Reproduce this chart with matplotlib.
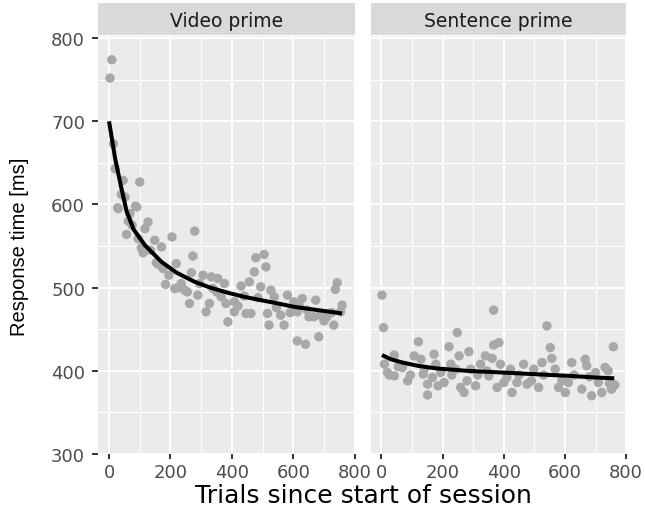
import matplotlib
matplotlib.use("Agg")
import matplotlib.pyplot as plt

# points: (trial, response time in ms)
video_x = [3, 9, 14, 20, 28, 30, 40, 46, 52, 57, 63, 68, 75, 86, 90, 95, 100, 105,
           111, 117, 127, 135, 149, 154, 160, 171, 176, 184, 195, 205, 214, 219, 225,
           235, 246, 255, 262, 268, 273, 279, 289, 295, 306, 316, 327, 333, 338, 350,
           354, 365, 376, 381, 387, 408, 408, 420, 430, 440, 446, 457, 462, 473, 478,
           485, 494, 505, 511, 516, 521, 527, 538, 545, 559, 570, 581, 590, 602, 613,
           613, 620, 629, 640, 645, 651, 667, 673, 683, 689, 700, 710, 725, 732, 737,
           743, 754, 759]
video_y = [752, 774, 673, 643, 596, 595, 612, 629, 609, 564, 580, 589, 575, 598, 597,
           559, 627, 548, 542, 571, 579, 545, 557, 530, 528, 549, 523, 504, 515, 561,
           499, 529, 500, 505, 497, 495, 481, 518, 538, 568, 491, 505, 515, 471, 481,
           513, 499, 495, 511, 489, 505, 481, 459, 483, 471, 478, 502, 490, 469, 507,
           469, 519, 536, 488, 501, 540, 525, 469, 455, 497, 489, 476, 467, 455, 491,
           470, 483, 471, 436, 478, 487, 432, 473, 465, 465, 485, 441, 467, 460, 465,
           470, 455, 498, 506, 471, 479]

sentence_x = [2, 7, 10, 20, 26, 42, 42, 55, 69, 86, 95, 107, 121, 129, 137, 140, 151,
              151, 167, 172, 178, 185, 194, 205, 221, 227, 230, 243, 248, 254, 259,
              270, 280, 286, 292, 308, 315, 324, 340, 345, 351, 362, 367, 367, 378,
              384, 389, 400, 410, 422, 427, 443, 450, 465, 476, 490, 498, 514, 525,
              530, 541, 552, 557, 568, 579, 590, 601, 611, 622, 630, 655, 666, 671,
              680, 687, 700, 709, 720, 731, 741, 745, 752, 758, 763]
sentence_y = [491, 452, 408, 398, 395, 419, 394, 405, 404, 388, 395, 418, 435, 414,
              396, 402, 384, 371, 392, 420, 408, 382, 398, 386, 429, 408, 395, 402,
              446, 418, 380, 374, 388, 423, 402, 382, 395, 408, 418, 400, 394, 415,
              473, 431, 380, 434, 408, 386, 392, 402, 374, 386, 395, 408, 384, 388,
              402, 380, 410, 395, 454, 428, 415, 402, 380, 388, 374, 386, 410, 395,
              378, 414, 406, 393, 370, 398, 386, 374, 404, 400, 385, 378, 429, 383]

# fitted curves
video_fit_x = [0, 20, 40, 57, 80, 117, 133, 171, 220, 279, 330, 386, 440, 494, 550, 602, 680, 759]
video_fit_y = [700, 655, 620, 592, 570, 551, 545, 531, 518, 507, 500, 494, 489, 485, 481, 477, 473, 469]
sentence_fit_x = [2, 30, 69, 120, 178, 280, 395, 500, 611, 700, 761]
sentence_fit_y = [419, 414, 410, 406, 403, 400, 398, 396, 394, 392, 391]

panels = ["Video prime", "Sentence prime"]
x_ticks = [0, 200, 400, 600, 800]
y_ticks = [300, 400, 500, 600, 700, 800]

PANEL_BG = "#EBEBEB"
STRIP_BG = "#D9D9D9"
POINT_COLOR = "#A8A8A8"
TICK_FONT = ["DejaVu Sans"]
TITLE_FONT = ["Liberation Sans", "DejaVu Sans"]

fig = plt.figure(figsize=(6.45, 5.10), dpi=100)
boxes = [(0.1524, 0.1078, 0.398, 0.8187), (0.5747, 0.1078, 0.3966, 0.8187)]
series = [
    (video_x, video_y, video_fit_x, video_fit_y),
    (sentence_x, sentence_y, sentence_fit_x, sentence_fit_y),
]

for idx, (box, name, (px, py, fx, fy)) in enumerate(zip(boxes, panels, series)):
    ax = fig.add_axes(box)
    ax.set_facecolor(PANEL_BG)
    ax.set_xlim(-35, 801)
    ax.set_ylim(300, 802)
    ax.set_xticks(x_ticks)
    ax.set_yticks(y_ticks)
    ax.set_xticks([100, 300, 500, 700], minor=True)
    ax.set_yticks([350, 450, 550, 650, 750], minor=True)
    ax.grid(True, which="major", color="white", linewidth=1.4)
    ax.grid(True, which="minor", color="white", linewidth=0.7)
    ax.set_axisbelow(True)
    for spine in ax.spines.values():
        spine.set_visible(False)
    ax.tick_params(which="minor", length=0)
    ax.tick_params(which="major", width=1.4, color="#333333",
                   labelcolor="#4D4D4D", labelsize=13)
    ax.tick_params(axis="x", length=3.5, pad=3)
    ax.tick_params(axis="y", length=4.5, pad=5)
    for label in ax.get_xticklabels() + ax.get_yticklabels():
        label.set_family(TICK_FONT)
    if idx == 1:
        ax.tick_params(axis="y", left=False, labelleft=False)

    ax.scatter(px, py, s=46, color=POINT_COLOR, edgecolors="none", zorder=2,
               clip_on=False)
    ax.plot(fx, fy, color="black", linewidth=2.9, solid_capstyle="butt", zorder=3)

    # facet strip
    strip = fig.add_axes((box[0], 0.9294, box[2], 0.0622))
    strip.set_facecolor(STRIP_BG)
    strip.set_xticks([])
    strip.set_yticks([])
    for spine in strip.spines.values():
        spine.set_visible(False)
    strip.text(0.5, 0.47, name, ha="center", va="center", fontsize=13.5,
               color="#1A1A1A", family=TICK_FONT, transform=strip.transAxes)

fig.text(0.563, 0.0137, "Trials since start of session", ha="center",
         va="baseline", fontsize=18, color="black", family=TICK_FONT)
fig.text(0.03, 0.516, "Response time [ms]", ha="center", va="center", rotation=90,
         fontsize=14.5, color="black", family=TITLE_FONT)

fig.savefig("out.png", dpi=100)
